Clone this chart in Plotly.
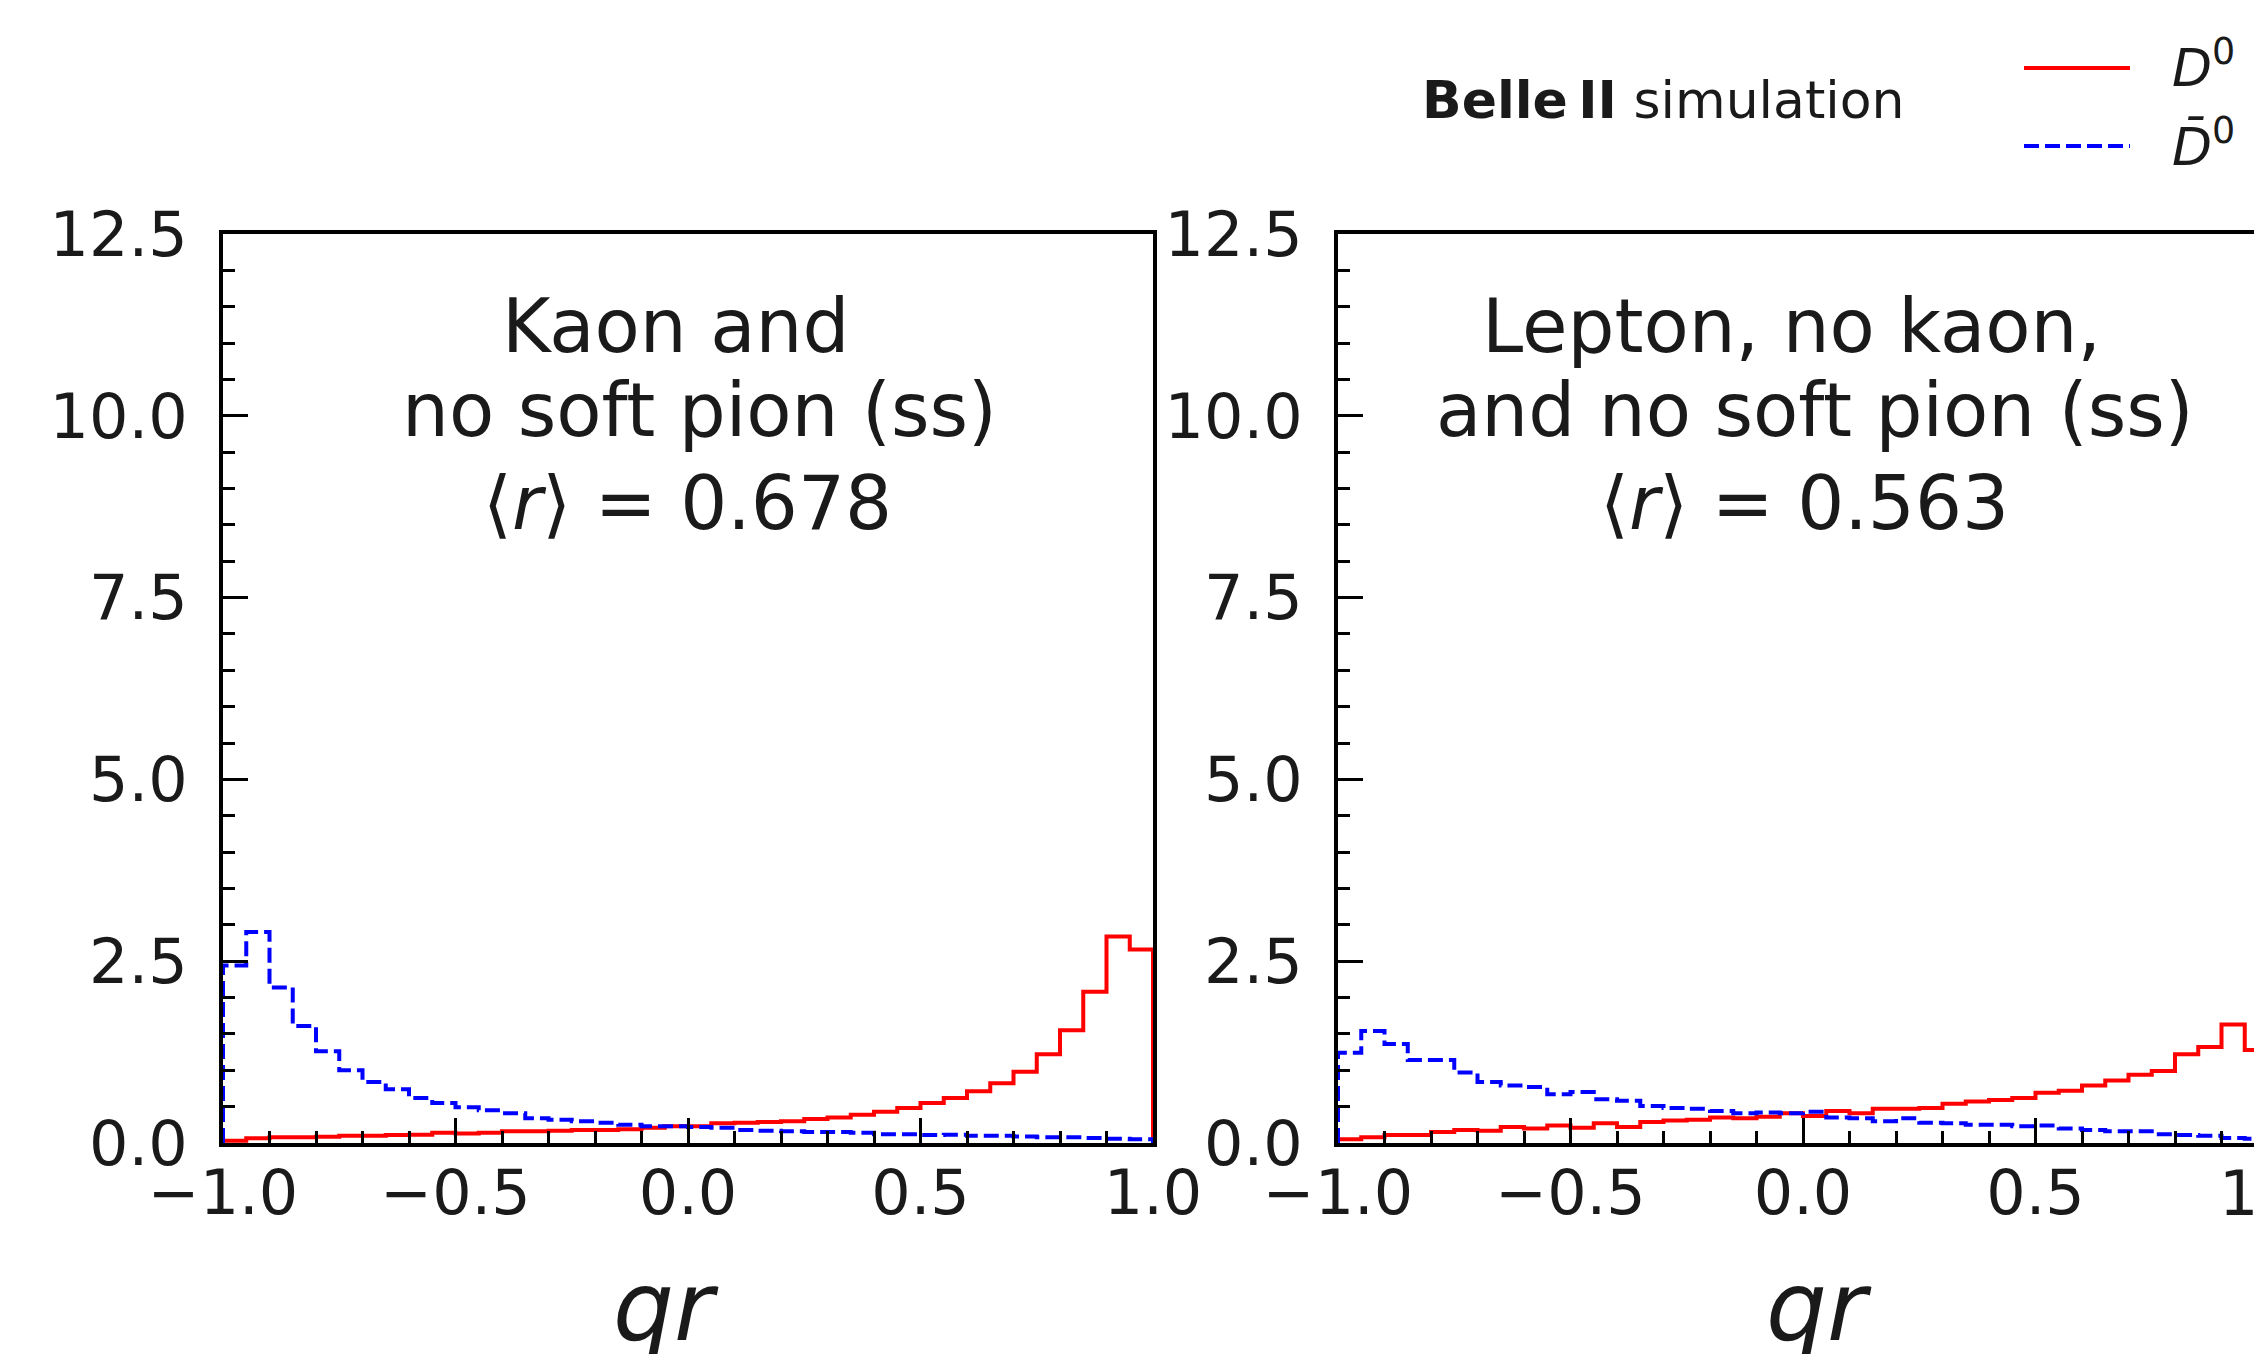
import numpy as np
import plotly.graph_objects as go

# ---------------- data ----------------
bin_edges = np.linspace(-1.0, 1.0, 41)

left_D0 = [0.03, 0.065, 0.08, 0.08, 0.085, 0.10, 0.10, 0.11, 0.115, 0.14,
           0.13, 0.14, 0.16, 0.16, 0.17, 0.18, 0.18, 0.19, 0.21, 0.23,
           0.23, 0.27, 0.28, 0.29, 0.30, 0.33, 0.35, 0.39, 0.43, 0.48,
           0.55, 0.62, 0.71, 0.82, 0.98, 1.22, 1.55, 2.08, 2.84, 2.66]
left_D0bar = [2.44, 2.90, 2.14, 1.61, 1.26, 1.00, 0.84, 0.74, 0.62, 0.55,
              0.49, 0.45, 0.41, 0.34, 0.32, 0.30, 0.28, 0.25, 0.23, 0.23,
              0.22, 0.21, 0.18, 0.17, 0.16, 0.15, 0.15, 0.14, 0.12, 0.12,
              0.11, 0.115, 0.10, 0.10, 0.09, 0.08, 0.08, 0.07, 0.06, 0.05]
right_D0 = [0.05, 0.08, 0.11, 0.11, 0.15, 0.18, 0.17, 0.22, 0.20, 0.24,
            0.21, 0.27, 0.22, 0.29, 0.31, 0.32, 0.35, 0.34, 0.36, 0.41,
            0.37, 0.44, 0.41, 0.47, 0.47, 0.48, 0.54, 0.57, 0.59, 0.62,
            0.69, 0.72, 0.79, 0.86, 0.94, 0.99, 1.22, 1.32, 1.63, 1.28]
right_D0bar = [1.24, 1.54, 1.36, 1.14, 1.14, 0.97, 0.84, 0.79, 0.77, 0.67,
               0.70, 0.60, 0.58, 0.51, 0.48, 0.47, 0.44, 0.41, 0.42, 0.41,
               0.43, 0.35, 0.34, 0.30, 0.34, 0.28, 0.27, 0.25, 0.25, 0.23,
               0.24, 0.20, 0.18, 0.16, 0.16, 0.12, 0.11, 0.10, 0.07, 0.06]

panel_titles = [["Kaon and", "no soft pion (ss)", "⟨<i>r</i>⟩ = 0.678"],
                ["Lepton, no kaon,", "and no soft pion (ss)", "⟨<i>r</i>⟩ = 0.563"]]
x_tickvals = [-1.0, -0.5, 0.0, 0.5, 1.0]
x_ticktext = ["−1.0", "−0.5", "0.0", "0.5", "1.0"]
y_tickvals = [0.0, 2.5, 5.0, 7.5, 10.0, 12.5]
y_ticktext = ["0.0", "2.5", "5.0", "7.5", "10.0", "12.5"]
legend_labels = ["<i>D</i><sup>0</sup>", "<i>D̄</i><sup>0</sup>"]

# ---------------- helpers ----------------
W, H = 2254, 1354
FONT = "DejaVu Sans"
TXT = "#1a1a1a"


def step_xy(values):
    e = list(bin_edges)
    xs = [e[0]] + e[:-1] + [e[-1], e[-1]]
    ys = [0.0] + list(values) + [values[-1], 0.0]
    return xs, ys


def px_x(p):
    return p / W


def px_y(p):
    return 1 - p / H


RED = "#ff0000"
BLUE = "#0000ff"

fig = go.Figure()
for (d0, d0b, xa, ya) in [(left_D0, left_D0bar, "x", "y"),
                           (right_D0, right_D0bar, "x2", "y2")]:
    xs, ys = step_xy(d0)
    fig.add_trace(go.Scatter(x=xs, y=ys, mode="lines", line_shape="hv",
                             line=dict(color=RED, width=4),
                             xaxis=xa, yaxis=ya, showlegend=False,
                             hoverinfo="skip"))
    xs, ys = step_xy(d0b)
    fig.add_trace(go.Scatter(x=xs, y=ys, mode="lines", line_shape="hv",
                             line=dict(color=BLUE, width=4, dash="15px,6px"),
                             xaxis=xa, yaxis=ya, showlegend=False,
                             hoverinfo="skip"))

ydom = [px_y(1143), px_y(234)]
axis_common = dict(showline=True, linewidth=4, linecolor="black",
                   showgrid=False, zeroline=False, ticks="inside",
                   tickcolor="black", tickwidth=3, ticklen=25,
                   automargin=False,
                   tickfont=dict(family=FONT, size=62, color=TXT))

xaxis_common = dict(axis_common, tickmode="array", tickvals=x_tickvals,
                    ticktext=x_ticktext, ticklabelstandoff=-7,
                    minor=dict(tickmode="linear", tick0=-1.0, dtick=0.1,
                               ticks="inside", ticklen=12, tickwidth=3,
                               tickcolor="black"))
yaxis_common = dict(axis_common, tickmode="array", tickvals=y_tickvals,
                    ticktext=y_ticktext, range=[0, 12.5],
                    ticklabelstandoff=19,
                    minor=dict(tickmode="linear", tick0=0.0, dtick=0.5,
                               ticks="inside", ticklen=12, tickwidth=3,
                               tickcolor="black"))

right_max = -1.0 + (W - 1338) / 465.0

fig.update_layout(
    template="none",
    width=W, height=H,
    margin=dict(l=0, r=0, t=0, b=0, pad=0, autoexpand=False),
    paper_bgcolor="white", plot_bgcolor="white",
    font=dict(family=FONT, color=TXT),
    xaxis=dict(xaxis_common, domain=[px_x(223), px_x(1153)], range=[-1, 1],
               anchor="y", mirror=True),
    yaxis=dict(yaxis_common, domain=ydom, anchor="x", mirror=True),
    xaxis2=dict(xaxis_common, domain=[px_x(1338), 1.0],
                range=[-1, right_max], anchor="y2", mirror=True),
    yaxis2=dict(yaxis_common, domain=ydom, anchor="x2", mirror=False),
)

annotations = []
# panel titles (per-line centres as in the reference)
line_mid = [326, 410, 503]
line_cx = [[676, 699, 687], [1792, 1815, 1804]]
for cxs, lines in zip(line_cx, panel_titles):
    for cx, ly, txt in zip(cxs, line_mid, lines):
        annotations.append(dict(text=txt, x=px_x(cx), y=px_y(ly),
                                xref="paper", yref="paper", showarrow=False,
                                xanchor="center", yanchor="middle",
                                font=dict(family=FONT, size=74, color=TXT)))
# x labels
for cx in [666, 1819]:
    annotations.append(dict(text="<i>qr</i>", x=px_x(cx), y=px_y(1307),
                            xref="paper", yref="paper", showarrow=False,
                            xanchor="center", yanchor="middle",
                            font=dict(family=FONT, size=96, color=TXT)))
# cut-off "1.0" tick label of the right panel
annotations.append(dict(text="1.0", x=px_x(2268), y=px_y(1193),
                        xref="paper", yref="paper", showarrow=False,
                        xanchor="center", yanchor="middle",
                        font=dict(family=FONT, size=62, color=TXT)))
# Belle II label
annotations.append(dict(text="<b>Belle\u2009II</b> simulation", x=px_x(1420),
                        y=px_y(100), xref="paper", yref="paper",
                        showarrow=False, xanchor="left", yanchor="middle",
                        font=dict(family=FONT, size=52, color=TXT)))
# legend labels
for ly, lab in zip([64, 143], legend_labels):
    annotations.append(dict(text=lab, x=px_x(2170), y=px_y(ly),
                            xref="paper", yref="paper", showarrow=False,
                            xanchor="left", yanchor="middle",
                            font=dict(family=FONT, size=52, color=TXT)))
fig.update_layout(annotations=annotations)

# legend line samples
fig.add_shape(type="line", xref="paper", yref="paper",
              x0=px_x(2024), x1=px_x(2130), y0=px_y(68), y1=px_y(68),
              line=dict(color=RED, width=4))
fig.add_shape(type="line", xref="paper", yref="paper",
              x0=px_x(2024), x1=px_x(2130), y0=px_y(146), y1=px_y(146),
              line=dict(color=BLUE, width=4, dash="15px,6px"))

fig.write_html("out.html")
